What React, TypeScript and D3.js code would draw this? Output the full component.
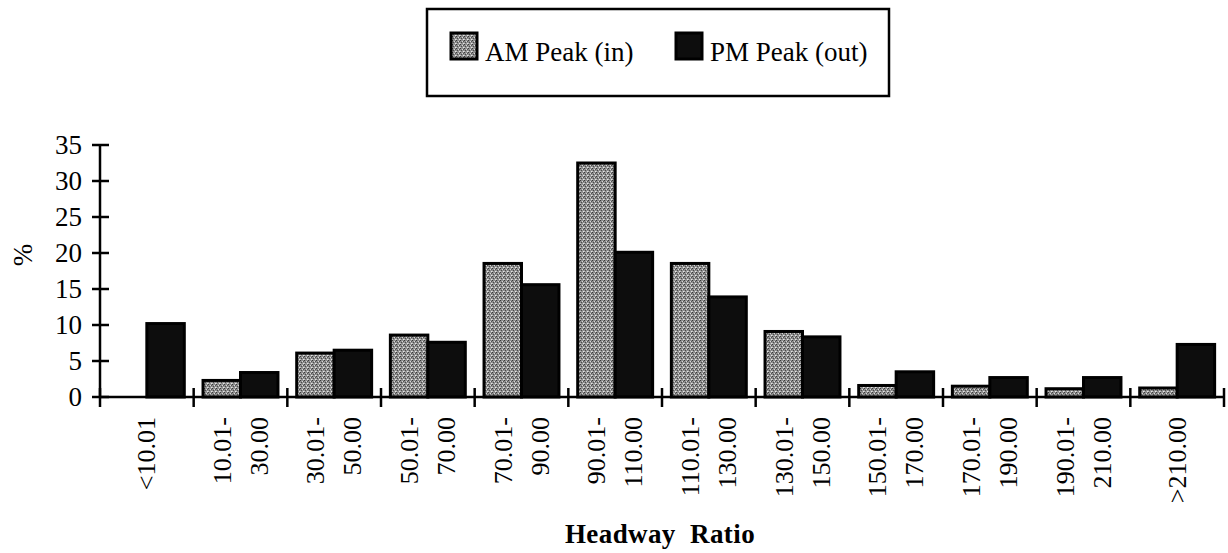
import React from "react";
import * as d3 from "d3";

const categories: string[][] = [
  ["<10.01"],
  ["10.01-", "30.00"],
  ["30.01-", "50.00"],
  ["50.01-", "70.00"],
  ["70.01-", "90.00"],
  ["90.01-", "110.00"],
  ["110.01-", "130.00"],
  ["130.01-", "150.00"],
  ["150.01-", "170.00"],
  ["170.01-", "190.00"],
  ["190.01-", "210.00"],
  [">210.00"],
];
const amPeak = [0, 2.3, 6.1, 8.6, 18.55, 32.5, 18.55, 9.1, 1.6, 1.5, 1.15, 1.25];
const pmPeak = [10.2, 3.4, 6.5, 7.6, 15.6, 20.1, 13.9, 8.35, 3.5, 2.7, 2.7, 7.3];
const yTicks = [0, 5, 10, 15, 20, 25, 30, 35];
const seriesNames = ["AM Peak (in)", "PM Peak (out)"];

const W = 1228;
const H = 553;
const FONT = "'Liberation Serif', 'Times New Roman', serif";

export default function App() {
  const left = 100;
  const right = 1224;
  const top = 145;
  const bottom = 397;

  const x = d3
    .scaleBand<number>()
    .domain(d3.range(categories.length))
    .range([left, right])
    .paddingInner(0.2)
    .paddingOuter(0.1);
  const xSub = d3.scaleBand<number>().domain([0, 1]).range([0, x.bandwidth()]);
  const y = d3.scaleLinear().domain([0, 35]).range([bottom, top]);
  const step = (right - left) / categories.length;
  const boundaries = d3.range(categories.length + 1).map((i) => left + i * step);

  const series = [amPeak, pmPeak];
  const fills = ["url(#amPattern)", "#0d0d0d"];

  return (
    <svg
      width={W}
      height={H}
      style={{ position: "absolute", left: 0, top: 0, background: "#fff" }}
      fontFamily={FONT}
    >
      <defs>
        <pattern id="amPattern" width="4" height="4" patternUnits="userSpaceOnUse">
          <rect width="4" height="4" fill="#8e8e8e" />
          <rect x="0" y="0" width="1" height="1" fill="#3a3a3a" />
          <rect x="2" y="1" width="1" height="1" fill="#d8d8d8" />
          <rect x="1" y="2" width="1" height="1" fill="#4a4a4a" />
          <rect x="3" y="3" width="1" height="1" fill="#e6e6e6" />
          <rect x="3" y="1" width="1" height="1" fill="#555" />
          <rect x="0" y="3" width="1" height="1" fill="#c0c0c0" />
        </pattern>
      </defs>

      {/* Legend */}
      <rect x={427} y={9} width={462} height={87} fill="#fff" stroke="#000" strokeWidth={2.5} />
      {seriesNames.map((name, i) => {
        const sx = i === 0 ? 451 : 676;
        return (
          <g key={name}>
            <rect x={sx} y={33} width={26} height={26} fill={fills[i]} stroke="#000" strokeWidth={3} />
            <text x={sx + 34} y={61} fontSize={27} fill="#000">
              {name}
            </text>
          </g>
        );
      })}

      {/* Bars */}
      {categories.map((_, ci) =>
        series.map((vals, si) => {
          const v = vals[ci];
          if (v <= 0) return null;
          const bx = (x(ci) as number) + (xSub(si) as number);
          return (
            <rect
              key={`${ci}-${si}`}
              x={bx}
              y={y(v)}
              width={xSub.bandwidth()}
              height={bottom - y(v)}
              fill={fills[si]}
              stroke="#000"
              strokeWidth={3}
            />
          );
        })
      )}

      {/* Y axis */}
      <line x1={left} x2={left} y1={top} y2={bottom} stroke="#000" strokeWidth={2.5} />
      {yTicks.map((t) => (
        <g key={t}>
          <line x1={left - 8} x2={left + 9} y1={y(t)} y2={y(t)} stroke="#000" strokeWidth={2.5} />
          <text x={82} y={y(t)} fontSize={27} textAnchor="end" dominantBaseline="central" fill="#000">
            {t}
          </text>
        </g>
      ))}

      {/* X axis */}
      <line x1={left} x2={right} y1={bottom} y2={bottom} stroke="#000" strokeWidth={2.5} />
      {boundaries.map((bx, i) => (
        <line key={i} x1={bx} x2={bx} y1={bottom - 9} y2={bottom + 10} stroke="#000" strokeWidth={2.5} />
      ))}
      {categories.map((lines, ci) => {
        const cx = (x(ci) as number) + x.bandwidth() / 2;
        const n = lines.length;
        return lines.map((ln, li) => {
          const lx = cx + (li - (n - 1) / 2) * 37;
          return (
            <text
              key={`${ci}-${li}`}
              transform={`translate(${lx},417) rotate(-90)`}
              fontSize={26}
              textAnchor="end"
              dominantBaseline="central"
              fill="#000"
            >
              {ln}
            </text>
          );
        });
      })}

      {/* Axis titles */}
      <text
        transform="translate(23,255) rotate(-90)"
        fontSize={27}
        textAnchor="middle"
        dominantBaseline="central"
        fill="#000"
      >
        %
      </text>
      <text
        x={660}
        y={543}
        fontSize={27}
        fontWeight="bold"
        textAnchor="middle"
        fill="#000"
        style={{ whiteSpace: "pre" }}
        letterSpacing={0.4}
      >
        {"Headway  Ratio"}
      </text>
    </svg>
  );
}
